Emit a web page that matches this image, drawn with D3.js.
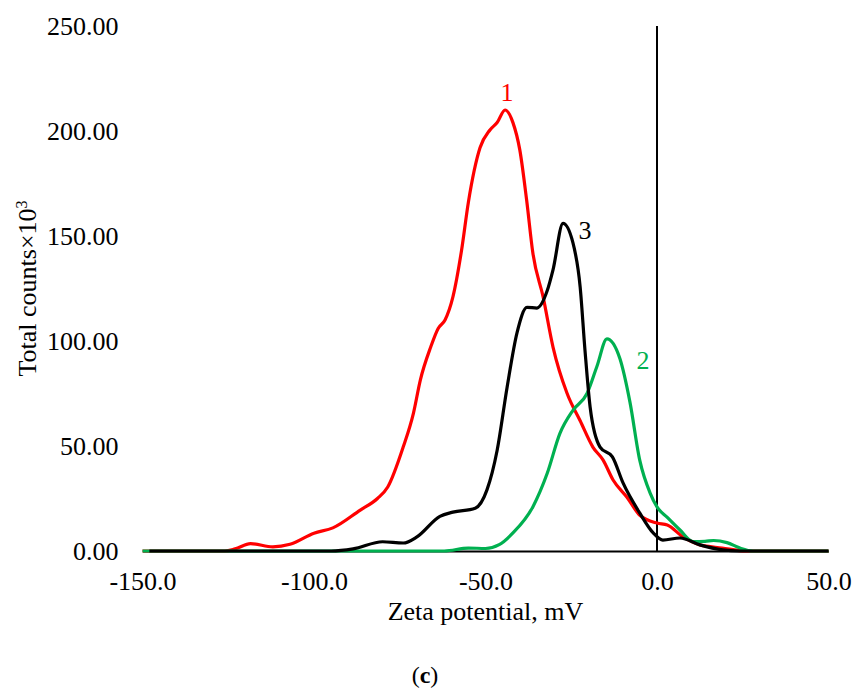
<!DOCTYPE html>
<html lang="en">
<head>
    <meta charset="UTF-8">
    <title>Zeta potential</title>
    <script src="https://cdn.jsdelivr.net/npm/d3@7"></script>
    <style>
        body { margin: 0; background: #fff; }
        text { font-family: "Liberation Serif", "Times New Roman", serif; }
    </style>
</head>
<body>
    <script>
        // series 1 (red)
        const x1 = [-150, -126, -123, -118.5, -112, -107, -100, -94.5, -86.5, -81.5, -78.5, -74, -71, -69, -66, -63.8, -61.8, -59.5, -57, -55, -51.6, -48.7, -46.6, -44.3, -42, -40, -38, -36.2, -33.2, -30.3, -26.2, -22.4, -18.7, -15.7, -12.8, -8.7, -5, 0, 3, 7.6, 12.5, 19, 26, 50];
        const y1 = [0, 0, 1, 3.5, 2, 3.2, 8.5, 11, 19.5, 25, 30.5, 49.5, 65.7, 81.4, 97, 106, 110, 121, 143, 166, 192, 200.5, 204, 210, 204, 191, 167, 142, 121, 97, 75, 62, 49.5, 43.3, 33.8, 25.5, 17, 13.3, 12.4, 6.7, 2.9, 1.4, 0, 0];
        // series 2 (green)
        const x2 = [-150, -62, -55, -50, -46, -42, -36.2, -32, -28.3, -24.5, -20.4, -17.5, -14.6, -10.8, -7.9, -5, -2, 0, 3, 6.7, 10.5, 14, 16.5, 20.4, 24.2, 28, 50];
        const y2 = [0, 0, 1.4, 1.2, 3, 8.6, 21, 37, 56, 67, 75, 88, 101, 91.5, 71, 43, 27.6, 21, 16, 10, 4.5, 4.6, 5, 4, 1.4, 0, 0];
        // series 3 (black)
        const x3 = [-148, -95, -88.6, -80, -74, -70, -63.3, -59.5, -53, -49.6, -46.6, -43.7, -40.8, -37.9, -35, -32, -30.3, -27.4, -24.5, -22.4, -21, -19.5, -16.6, -13, -9.9, -5, -1.1, 1.7, 6.7, 12.5, 19.2, 24, 50];
        const y3 = [0, 0, 1, 4.4, 3.8, 6.7, 16.5, 18.5, 20.4, 29, 48, 78, 104, 116, 115.7, 124, 134, 156, 146.7, 125.7, 95.7, 68.6, 49.5, 44.8, 32.4, 18, 8.6, 5.2, 6.2, 2.9, 0.5, 0, 0];

        const xTicks = [-150, -100, -50, 0, 50];
        const yTicks = [0, 50, 100, 150, 200, 250];

        const w = 855;
        const h = 693;

        const svg = d3.select("body")
            .append("svg")
            .attr("width", w)
            .attr("height", h);

        const xScale = d3.scaleLinear()
            .domain([-150, 50])
            .range([142.5, 828.5]);

        const yScale = d3.scaleLinear()
            .domain([0, 250])
            .range([551, 26]);

        const fs = 26;

        // y axis: labels only
        const yAxis = d3.axisLeft(yScale)
            .tickValues(yTicks)
            .tickSize(0)
            .tickPadding(24)
            .tickFormat(d => d.toFixed(2));
        svg.append("g")
            .attr("transform", "translate(" + xScale(-150) + ",0)")
            .call(yAxis)
            .call(g => g.select(".domain").remove())
            .selectAll("text")
            .attr("font-size", fs)
            .attr("font-family", "Liberation Serif")
            .attr("fill", "#000");

        // x axis
        const xAxis = d3.axisBottom(xScale)
            .tickValues(xTicks)
            .tickSize(0)
            .tickPadding(21)
            .tickFormat(d => d.toFixed(1));
        const gx = svg.append("g")
            .attr("transform", "translate(0," + yScale(0) + ")")
            .call(xAxis);
        gx.select(".domain").attr("stroke", "#000").attr("stroke-width", 2);
        gx.selectAll("text")
            .attr("font-size", fs)
            .attr("font-family", "Liberation Serif")
            .attr("fill", "#000");

        // vertical line at zero
        svg.append("line")
            .attr("x1", xScale(0)).attr("x2", xScale(0))
            .attr("y1", yScale(250)).attr("y2", yScale(0))
            .attr("stroke", "#000")
            .attr("stroke-width", 2);

        const line = d3.line()
            .x(d => xScale(d[0]))
            .y(d => yScale(d[1]))
            .curve(d3.curveMonotoneX);

        const series = [
            { xs: x1, ys: y1, color: "#ff0000" },
            { xs: x2, ys: y2, color: "#00b050" },
            { xs: x3, ys: y3, color: "#000000" }
        ];

        series.forEach(s => {
            svg.append("path")
                .datum(s.xs.map((x, i) => [x, s.ys[i]]))
                .attr("fill", "none")
                .attr("stroke", s.color)
                .attr("stroke-width", 3.2)
                .attr("stroke-linejoin", "round")
                .attr("d", line);
        });

        // series labels
        svg.append("text").attr("x", 507).attr("y", 101).attr("text-anchor", "middle")
            .attr("font-size", fs).attr("fill", "#ff0000").text("1");
        svg.append("text").attr("x", 643).attr("y", 369).attr("text-anchor", "middle")
            .attr("font-size", fs).attr("fill", "#00b050").text("2");
        svg.append("text").attr("x", 585).attr("y", 239).attr("text-anchor", "middle")
            .attr("font-size", fs).attr("fill", "#000").text("3");

        // axis titles
        svg.append("text")
            .attr("x", (xScale(-150) + xScale(50)) / 2)
            .attr("y", 620)
            .attr("text-anchor", "middle")
            .attr("font-size", fs)
            .text("Zeta potential, mV");

        const yt = svg.append("text")
            .attr("transform", "translate(36," + (yScale(0) + yScale(250)) / 2 + ") rotate(-90)")
            .attr("text-anchor", "middle")
            .attr("font-size", fs);
        yt.append("tspan").text("Total counts×10");
        yt.append("tspan").attr("font-size", 16).attr("dy", -9).text("3");

        // panel caption
        const cap = svg.append("text")
            .attr("x", 425)
            .attr("y", 683)
            .attr("text-anchor", "middle")
            .attr("font-size", 24);
        cap.append("tspan").text("(");
        cap.append("tspan").attr("font-weight", "bold").text("c");
        cap.append("tspan").text(")");
    </script>
</body>
</html>
